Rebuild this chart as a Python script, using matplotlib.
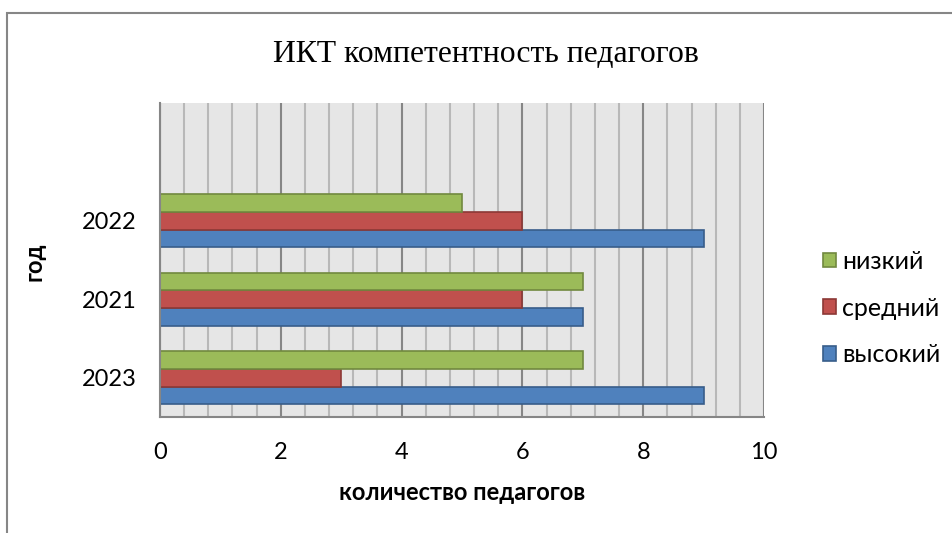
import matplotlib.pyplot as plt
import numpy as np
from matplotlib.patches import Rectangle

# --- данные ---
years = ['2023', '2021', '2022', '']
nizkiy = [7, 7, 5, 0]
sredniy = [3, 6, 6, 0]
vysokiy = [9, 7, 9, 0]

C_GREEN, E_GREEN = '#9BBB59', '#71893F'
C_RED, E_RED = '#C0504D', '#8C3836'
C_BLUE, E_BLUE = '#4F81BD', '#385D8A'

plt.rcParams['font.family'] = ['Lato', 'DejaVu Sans']

fig = plt.figure(figsize=(9.52, 5.33), dpi=100)
ax = fig.add_axes([160 / 952, 1 - 417 / 533, 604 / 952, 314 / 533])

y = np.arange(len(years))
h = 0.225
n = 3  # последняя категория пустая
ax.barh(y[:n] - h, vysokiy[:n], height=h, color=C_BLUE, edgecolor=E_BLUE, linewidth=1.2, label='высокий', zorder=3)
ax.barh(y[:n], sredniy[:n], height=h, color=C_RED, edgecolor=E_RED, linewidth=1.2, label='средний', zorder=3)
ax.barh(y[:n] + h, nizkiy[:n], height=h, color=C_GREEN, edgecolor=E_GREEN, linewidth=1.2, label='низкий', zorder=3)

ax.set_xlim(0, 10)
ax.set_ylim(-0.5, 3.5)
ax.set_facecolor('#E6E6E6')
ax.set_xticks(np.arange(0, 11, 2))
ax.set_xticks(np.arange(0, 10.01, 0.4), minor=True)
ax.grid(which='minor', axis='x', color='#B8B8B8', linewidth=1.5, zorder=1)
ax.grid(which='major', axis='x', color='#868686', linewidth=1.5, zorder=2)
ax.set_yticks(y)
ax.set_yticklabels(years)
ax.tick_params(axis='both', which='both', length=0, labelsize=17)
ax.tick_params(axis='x', pad=18)
ax.tick_params(axis='y', pad=17)
for s in ['top', 'right']:
    ax.spines[s].set_visible(False)
for s in ['left', 'bottom']:
    ax.spines[s].set_color('#868686')
    ax.spines[s].set_linewidth(1.5)
    ax.spines[s].set_zorder(4)

fig.text(462 / 952, 1 - 493 / 533, 'количество педагогов', ha='center', va='center',
         fontsize=17, fontweight='bold')
fig.text(34 / 952, 1 - 262 / 533, 'год', ha='center', va='center', rotation=90,
         fontsize=17, fontweight='bold')

fig.text(486 / 952, 1 - 55 / 533, 'ИКТ компетентность педагогов', ha='center', va='center',
         fontsize=22.8, family=['Liberation Serif', 'DejaVu Serif'])

# легенда
handles, labels = ax.get_legend_handles_labels()
leg = fig.legend(handles[::-1], labels[::-1], loc='center left', bbox_to_anchor=(800 / 952, 1 - 308 / 533),
                 frameon=False, fontsize=18, handlelength=0.52, handleheight=0.52,
                 handletextpad=0.25, labelspacing=0.95)

# рамка диаграммы
fig.patches.append(Rectangle((7 / 952, -0.1), 1.2, 1 - 13 / 533 + 0.1, transform=fig.transFigure,
                             fill=False, edgecolor='#868686', linewidth=1.5))

fig.savefig('out.png', dpi=100)
